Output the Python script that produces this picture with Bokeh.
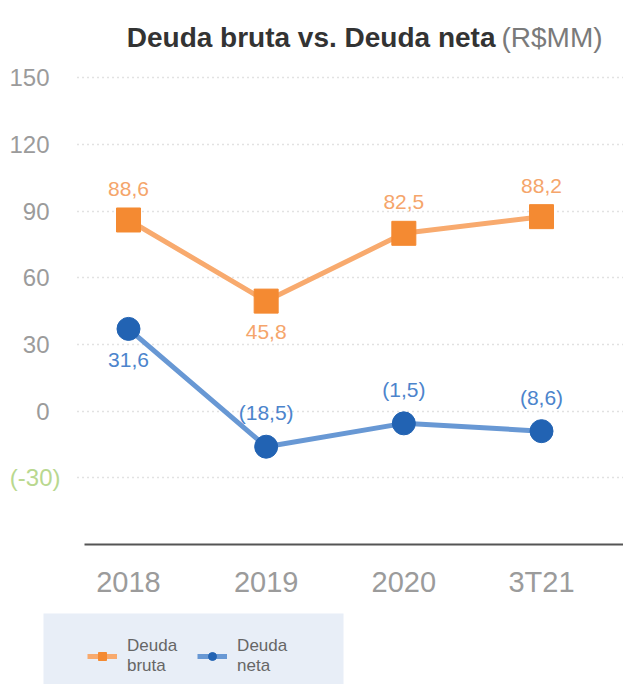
from bokeh.plotting import figure
from bokeh.models import (Range1d, FixedTicker, Label, Legend, LegendItem,
                          BoxAnnotation, ColumnDataSource)
from bokeh.core.properties import value
from bokeh.embed import file_html
from bokeh.resources import INLINE

# ---- data ----
periods = ["2018", "2019", "2020", "3T21"]
deuda_bruta = [86.0, 49.5, 80.0, 87.5]
deuda_bruta_labels = ["88,6", "45,8", "82,5", "88,2"]
deuda_bruta_label_pos = ["above", "below", "above", "above"]
deuda_neta = [37.0, -16.0, -5.5, -9.0]
deuda_neta_labels = ["31,6", "(18,5)", "(1,5)", "(8,6)"]
deuda_neta_label_pos = ["below", "above", "above", "above"]
y_ticks = [-30, 0, 30, 60, 90, 120, 150]
title_main = "Deuda bruta vs. Deuda neta"
title_unit = "(R$MM)"
legend_labels = ["Deuda\nbruta", "Deuda\nneta"]

FONT = "Liberation Sans"
ORANGE = "#F48A32"
ORANGE_LINE = "#F8AA6E"
ORANGE_TEXT = "#F5A56B"
BLUE = "#2263B3"
BLUE_LINE = "#6898D4"
BLUE_TEXT = "#4C84CC"
GRAY_TXT = "#9b9b9b"

W, H = 623, 684
PX_X = 137.67          # pixels per category step
PX_Y = 2.2227          # pixels per value unit
X0 = -128 / PX_X
X1 = X0 + W / PX_X
Y0 = -60 - 140 / PX_Y
Y1 = Y0 + H / PX_Y


def sx(px):            # canvas x pixel -> data x
    return X0 + px / PX_X


def sy(py):            # canvas y pixel (from top) -> data y
    return Y0 + (H - py) / PX_Y


xs = list(range(len(periods)))

p = figure(width=W, height=H, output_backend="svg", toolbar_location=None,
           x_range=Range1d(X0, X1), y_range=Range1d(Y0, Y1),
           min_border_left=0, min_border_right=0, min_border_top=0,
           min_border_bottom=0, outline_line_color=None)
p.background_fill_color = "white"
p.border_fill_color = "white"

# x axis drawn at y = -60
p.xaxis.fixed_location = -60
p.xaxis.bounds = (sx(84), X1)
p.xaxis.ticker = FixedTicker(ticks=xs)
p.xaxis.major_label_overrides = {i: s for i, s in enumerate(periods)}
p.xaxis.axis_line_color = "#555555"
p.xaxis.axis_line_width = 2
p.xaxis.major_tick_line_color = None
p.xaxis.minor_tick_line_color = None
p.xaxis.major_label_text_font = FONT
p.xaxis.major_label_text_font_size = "29px"
p.xaxis.major_label_text_color = GRAY_TXT
p.xaxis.major_label_standoff = 15

# y axis
p.yaxis.fixed_location = sx(78)
p.yaxis.ticker = FixedTicker(ticks=y_ticks)
p.yaxis.major_label_overrides = {-30: ""}
p.yaxis.axis_line_color = None
p.yaxis.major_tick_line_color = None
p.yaxis.minor_tick_line_color = None
p.yaxis.major_label_text_font = FONT
p.yaxis.major_label_text_font_size = "24px"
p.yaxis.major_label_text_color = GRAY_TXT
p.yaxis.major_label_standoff = 23

p.add_layout(Label(x=sx(60), y=-30, text="(-30)", text_align="right",
                   text_baseline="middle", text_font=FONT,
                   text_font_size="24px", text_color="#B9D88F"))

p.xgrid.grid_line_color = None
p.ygrid.cross_bounds = (sx(77), X1)
p.ygrid.grid_line_color = "#c4c4c4"
p.ygrid.grid_line_dash = "1 4"
p.ygrid.grid_line_width = 1.5

# series
src_b = ColumnDataSource(dict(
    x=xs, y=deuda_bruta, label=deuda_bruta_labels,
    dy=[-31 if s == "above" else 31 for s in deuda_bruta_label_pos]))
src_n = ColumnDataSource(dict(
    x=xs, y=deuda_neta, label=deuda_neta_labels,
    dy=[-34 if s == "above" else 31 for s in deuda_neta_label_pos]))

lb = p.line("x", "y", source=src_b, line_color=ORANGE_LINE, line_width=5)
sb = p.scatter("x", "y", source=src_b, marker="square", size=24,
               fill_color=ORANGE, line_color=ORANGE)
ln = p.line("x", "y", source=src_n, line_color=BLUE_LINE, line_width=5)
sn = p.scatter("x", "y", source=src_n, marker="circle", size=23,
               fill_color=BLUE, line_color=BLUE)

p.text("x", "y", text="label", source=src_b, y_offset="dy",
       text_align="center", text_baseline="middle", text_font=value(FONT),
       text_font_size="21px", text_color=ORANGE_TEXT)
p.text("x", "y", text="label", source=src_n, y_offset="dy",
       text_align="center", text_baseline="middle", text_font=value(FONT),
       text_font_size="21px", text_color=BLUE_TEXT)

# title
p.add_layout(Label(x=sx(495), y=sy(37), text=title_main, text_align="right",
                   text_baseline="alphabetic", text_font=FONT,
                   text_font_size="28px", text_font_style="bold",
                   text_color="#333333"))
p.add_layout(Label(x=sx(501), y=sy(37), text=title_unit, text_align="left",
                   text_baseline="alphabetic", text_font=FONT,
                   text_font_size="28px", text_color="#7a7a7a"))

# legend background + legend
p.add_layout(BoxAnnotation(left=sx(43), right=sx(343), top=sy(613),
                           bottom=sy(H + 20), fill_color="#E8EEF7",
                           fill_alpha=1.0, line_color=None))
legend = Legend(items=[LegendItem(label=legend_labels[0], renderers=[lb, sb]),
                       LegendItem(label=legend_labels[1], renderers=[ln, sn])],
                location=(87, 8), orientation="horizontal", padding=0,
                margin=0, spacing=20, glyph_width=30, glyph_height=20,
                label_standoff=10, label_text_font=FONT,
                label_text_font_size="17px", label_text_color="#666666",
                label_text_line_height=1.3, background_fill_alpha=0,
                border_line_color=None)
p.add_layout(legend)

open("out.html", "w").write(file_html(p, INLINE))
